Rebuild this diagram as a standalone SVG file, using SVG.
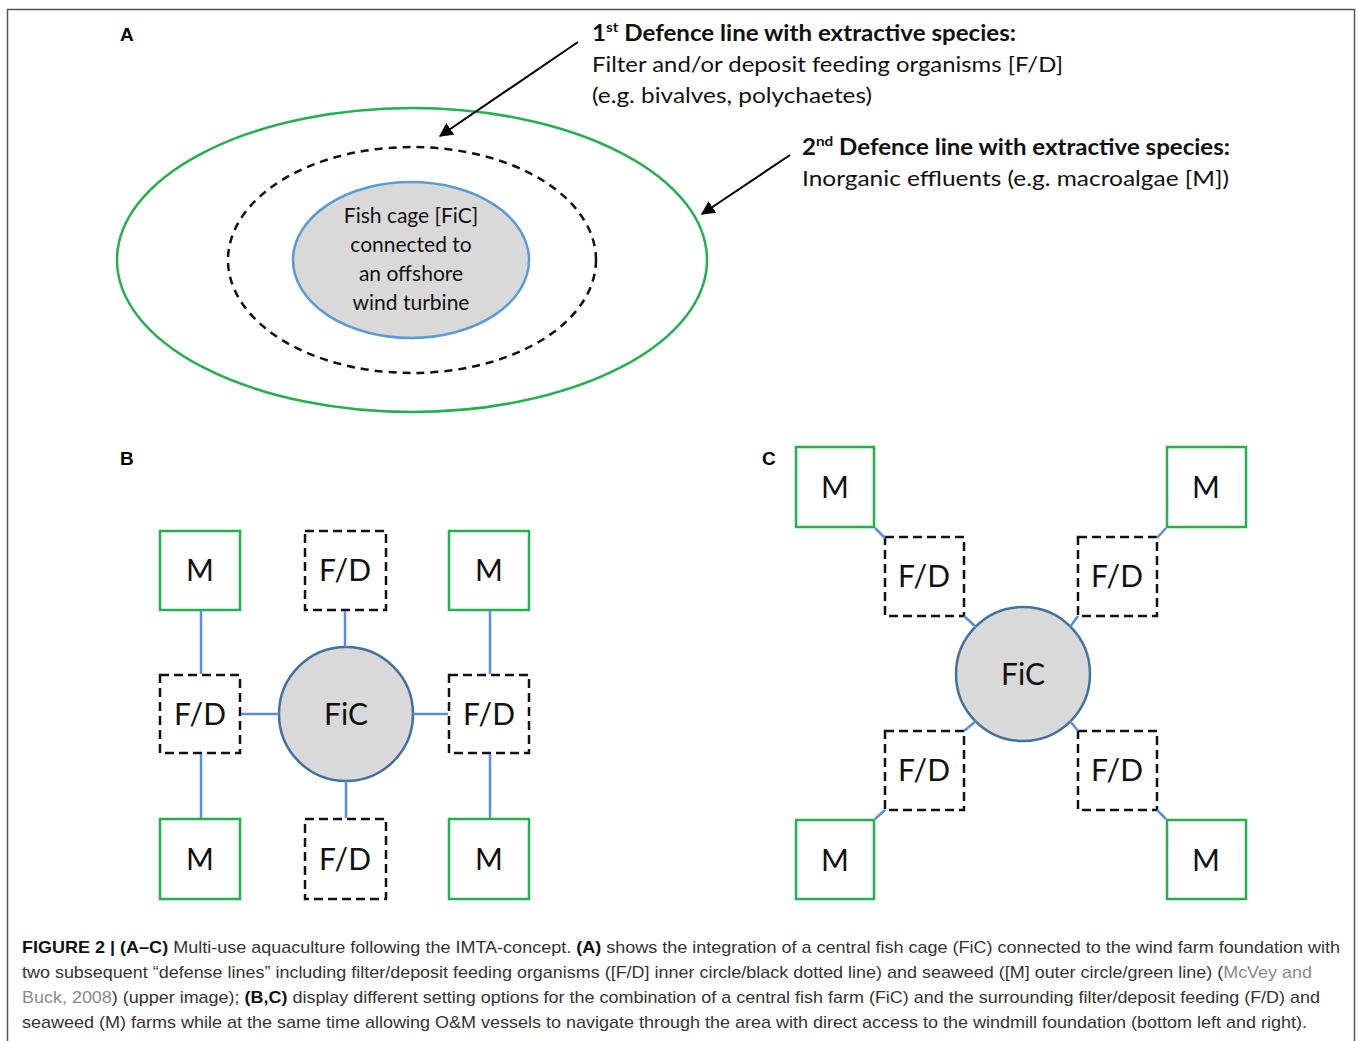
<svg xmlns="http://www.w3.org/2000/svg" width="1358" height="1041" viewBox="0 0 1358 1041">
<style>
.lbl{font-family:"Liberation Sans",Arial,sans-serif;font-weight:bold;font-size:19px;fill:#000}
.cal{font-family:Lato,"Open Sans",sans-serif;fill:#111}
.head{font-size:22px;font-weight:bold}
.body{font-size:22px}
.inner{font-size:21px;text-anchor:middle}
.node{font-size:30px;text-anchor:middle}
.m{fill:#fff;stroke:#22b14c;stroke-width:2.5}
.fd{fill:#fff;stroke:#111;stroke-width:2.5;stroke-dasharray:9 5}
.fic{fill:#d9d9d9;stroke:#41719c;stroke-width:2.5}
.con{stroke:#5b8ed6;stroke-width:2.5;fill:none}
.cap{font-family:"Liberation Sans",Arial,sans-serif;font-size:17px;fill:#333}
.capb{font-weight:bold;fill:#111}
.ref{fill:#8a8a8a}
</style>
<defs>
<marker id="ah" viewBox="0 0 10 10" refX="9" refY="5" markerWidth="7" markerHeight="7" orient="auto" markerUnits="strokeWidth">
<path d="M0,0 L10,5 L0,10 z" fill="#000"/>
</marker>
</defs>
<rect x="7.5" y="9.5" width="1347" height="1100" fill="#fff" stroke="#555" stroke-width="1.5"/>

<text class="lbl" x="120" y="41">A</text>
<text class="lbl" x="120" y="465">B</text>
<text class="lbl" x="762" y="465">C</text>

<!-- Panel A -->
<g id="outer-line">
<ellipse cx="412" cy="260" rx="295" ry="152" fill="none" stroke="#22b14c" stroke-width="2.5"/>
</g>
<g id="inner-line">
<ellipse cx="412" cy="260" rx="184" ry="113" fill="none" stroke="#111" stroke-width="2.5" stroke-dasharray="8 6"/>
</g>
<g id="fish-cage-a">
<ellipse cx="411" cy="260" rx="118" ry="78" fill="#d9d9d9" stroke="#5b9bd5" stroke-width="2.5"/>
<text class="cal inner" x="411" y="223">Fish cage [FiC]</text>
<text class="cal inner" x="411" y="252">connected to</text>
<text class="cal inner" x="411" y="281">an offshore</text>
<text class="cal inner" x="411" y="310">wind turbine</text>
</g>
<g id="label-1st">
<text class="cal head" x="592" y="41" textLength="424" lengthAdjust="spacingAndGlyphs">1<tspan font-size="14" dy="-9">st</tspan><tspan dy="9"> Defence line with extractive species:</tspan></text>
<text class="cal body" x="592" y="72" textLength="471" lengthAdjust="spacingAndGlyphs">Filter and/or deposit feeding organisms [F/D]</text>
<text class="cal body" x="592" y="103" textLength="280" lengthAdjust="spacingAndGlyphs">(e.g. bivalves, polychaetes)</text>
</g>
<g id="label-2nd">
<text class="cal head" x="802" y="155" textLength="428" lengthAdjust="spacingAndGlyphs">2<tspan font-size="14" dy="-9">nd</tspan><tspan dy="9"> Defence line with extractive species:</tspan></text>
<text class="cal body" x="802" y="186" textLength="427" lengthAdjust="spacingAndGlyphs">Inorganic effluents (e.g. macroalgae [M])</text>
</g>

<!-- Panel B nodes -->
<g id="b-m-tl"><rect class="m" x="160" y="531" width="80" height="79"/><text class="cal node" x="200" y="581">M</text></g>
<g id="b-fd-t"><rect class="fd" x="305" y="531" width="81" height="79"/><text class="cal node" x="345" y="581">F/D</text></g>
<g id="b-m-tr"><rect class="m" x="449" y="531" width="80" height="79"/><text class="cal node" x="489" y="581">M</text></g>
<g id="b-fd-l"><rect class="fd" x="160" y="675" width="80" height="78"/><text class="cal node" x="200" y="725">F/D</text></g>
<g id="b-fic"><circle class="fic" cx="346" cy="714" r="67"/><text class="cal node" x="346" y="725">FiC</text></g>
<g id="b-fd-r"><rect class="fd" x="449" y="675" width="80" height="78"/><text class="cal node" x="489" y="725">F/D</text></g>
<g id="b-m-bl"><rect class="m" x="160" y="819" width="80" height="80"/><text class="cal node" x="200" y="870">M</text></g>
<g id="b-fd-b"><rect class="fd" x="305" y="819" width="81" height="80"/><text class="cal node" x="345" y="870">F/D</text></g>
<g id="b-m-br"><rect class="m" x="449" y="819" width="80" height="80"/><text class="cal node" x="489" y="870">M</text></g>

<!-- Panel C nodes -->
<g id="c-m-tl"><rect class="m" x="796" y="447" width="78" height="80"/><text class="cal node" x="835" y="498">M</text></g>
<g id="c-m-tr"><rect class="m" x="1167" y="447" width="79" height="80"/><text class="cal node" x="1206" y="498">M</text></g>
<g id="c-fd-tl"><rect class="fd" x="885" y="537" width="79" height="79"/><text class="cal node" x="924" y="587">F/D</text></g>
<g id="c-fd-tr"><rect class="fd" x="1078" y="537" width="79" height="79"/><text class="cal node" x="1117" y="587">F/D</text></g>
<g id="c-fic"><circle class="fic" cx="1023" cy="674" r="67"/><text class="cal node" x="1023" y="685">FiC</text></g>
<g id="c-fd-bl"><rect class="fd" x="885" y="731" width="79" height="79"/><text class="cal node" x="924" y="781">F/D</text></g>
<g id="c-fd-br"><rect class="fd" x="1078" y="731" width="79" height="79"/><text class="cal node" x="1117" y="781">F/D</text></g>
<g id="c-m-bl"><rect class="m" x="796" y="820" width="78" height="79"/><text class="cal node" x="835" y="871">M</text></g>
<g id="c-m-br"><rect class="m" x="1167" y="820" width="79" height="79"/><text class="cal node" x="1206" y="871">M</text></g>

<g id="connectors">
<line x1="578" y1="42" x2="440" y2="136" stroke="#000" stroke-width="2" marker-end="url(#ah)"/>
<line x1="790" y1="155" x2="702" y2="214" stroke="#000" stroke-width="2" marker-end="url(#ah)"/>
<line class="con" x1="201" y1="611" x2="201" y2="674"/>
<line class="con" x1="201" y1="754" x2="201" y2="818"/>
<line class="con" x1="241" y1="714" x2="279" y2="714"/>
<line class="con" x1="413" y1="714" x2="448" y2="714"/>
<line class="con" x1="345" y1="611" x2="345" y2="647"/>
<line class="con" x1="346" y1="781" x2="346" y2="818"/>
<line class="con" x1="490" y1="611" x2="490" y2="674"/>
<line class="con" x1="490" y1="754" x2="490" y2="818"/>
<line class="con" x1="875" y1="528" x2="885" y2="538"/>
<line class="con" x1="964" y1="616" x2="976" y2="627"/>
<line class="con" x1="1166" y1="528" x2="1157" y2="538"/>
<line class="con" x1="1078" y1="616" x2="1070" y2="627"/>
<line class="con" x1="964" y1="731" x2="976" y2="721"/>
<line class="con" x1="885" y1="810" x2="875" y2="819"/>
<line class="con" x1="1078" y1="731" x2="1070" y2="721"/>
<line class="con" x1="1157" y1="810" x2="1166" y2="819"/>
</g>

<g id="caption">
<text class="cap" x="22" y="953" textLength="1318" lengthAdjust="spacingAndGlyphs"><tspan class="capb">FIGURE 2 | (A–C)</tspan> Multi-use aquaculture following the IMTA-concept. <tspan class="capb">(A)</tspan> shows the integration of a central fish cage (FiC) connected to the wind farm foundation with</text>
<text class="cap" x="22" y="978" textLength="1290" lengthAdjust="spacingAndGlyphs">two subsequent “defense lines” including filter/deposit feeding organisms ([F/D] inner circle/black dotted line) and seaweed ([M] outer circle/green line) (<tspan class="ref">McVey and</tspan></text>
<text class="cap" x="22" y="1003" textLength="1298" lengthAdjust="spacingAndGlyphs"><tspan class="ref">Buck, 2008</tspan>) (upper image); <tspan class="capb">(B,C)</tspan> display different setting options for the combination of a central fish farm (FiC) and the surrounding filter/deposit feeding (F/D) and</text>
<text class="cap" x="22" y="1028" textLength="1285" lengthAdjust="spacingAndGlyphs">seaweed (M) farms while at the same time allowing O&amp;M vessels to navigate through the area with direct access to the windmill foundation (bottom left and right).</text>
</g>
</svg>
